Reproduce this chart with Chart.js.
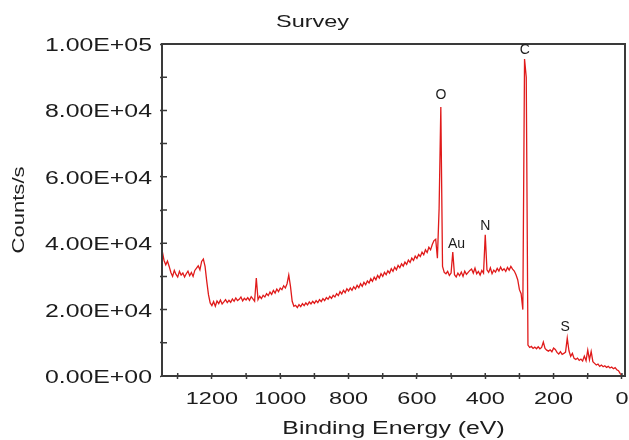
<!DOCTYPE html>
<html>
<head>
<meta charset="utf-8">
<script src="https://cdn.jsdelivr.net/npm/chart.js@4.4.1/dist/chart.umd.min.js"></script>
<style>
html,body{margin:0;padding:0;background:#ffffff;}
#c{display:block;}
</style>
</head>
<body>
<canvas id="c" width="629" height="440"></canvas>
<script>
// Binding energy (eV) sampling points
const energies = [
1345,1340,1335,1330,1325,1320,1315,1310,1305,1300,
1295,1290,1285,1280,1275,1270,1265,1260,1255,1250,
1245,1240,1235,1230,1225,1220,1215,1210,1205,1200,
1195,1190,1185,1180,1175,1170,1165,1160,1155,1150,
1145,1140,1135,1130,1125,1120,1115,1110,1105,1100,
1095,1090,1085,1080,1075,1070,1065,1060,1055,1050,
1045,1040,1035,1030,1025,1020,1015,1010,1005,1000,
995,990,985,980,975,970,965,960,955,950,
945,940,935,930,925,920,915,910,905,900,
895,890,885,880,875,870,865,860,855,850,
845,840,835,830,825,820,815,810,805,800,
795,790,785,780,775,770,765,760,755,750,
745,740,735,730,725,720,715,710,705,700,
695,690,685,680,675,670,665,660,655,650,
645,640,635,630,625,620,615,610,605,600,
595,590,585,580,575,570,565,560,555,550,
545,540,535,530,525,520,515,510,505,500,
495,490,485,480,475,470,465,460,455,450,
445,440,435,430,425,420,415,410,405,400,
395,390,385,380,375,370,365,360,355,350,
345,340,335,330,325,320,315,310,305,300,
295,290,285,280,275,270,265,260,255,250,
245,240,235,230,225,220,215,210,205,200,
195,190,185,180,175,170,165,160,155,150,
145,140,135,130,125,120,115,110,105,100,
95,90,85,80,75,70,65,60,55,50,
45,40,35,30,25,20,15,10,5,0
];

// Counts/s
const counts = [
37500,34800,33500,34600,33000,31200,30000,31800,30600,29800,
31500,30400,31000,29800,30800,31600,30200,31200,30000,31800,
32500,33200,32000,34500,35200,33000,28500,24500,22000,21200,
22400,21000,22600,21800,22900,21700,22300,23000,22100,22800,
22200,23200,22500,23500,22700,23100,23800,22600,23400,22900,
23600,22800,23900,23200,22500,29500,23000,24000,23300,24300,
23800,24800,24200,25300,24600,25800,25000,26200,25400,26500,
26000,27200,26500,27800,30400,27000,22500,21000,21300,20600,
21500,20900,21800,21200,22000,21400,22300,21700,22500,21900,
22700,22100,23000,22400,23300,22700,23600,23100,24000,23400,
24300,23800,24800,24200,25400,24700,25800,25100,26300,25600,
26500,25800,26900,26200,27300,26600,27800,27000,28200,27500,
28600,28000,29300,28500,29800,29000,30300,29500,30800,30000,
31200,30500,31700,31000,32300,31500,32800,32000,33300,32600,
33800,33100,34300,33600,34900,34200,35500,34800,36100,35400,
36600,36000,37300,36500,38000,37200,38800,38000,39600,40800,
41200,35500,50500,81000,33000,31200,30800,31500,30300,31000,
37300,30500,29800,31000,30200,31300,30000,31600,30600,31200,
31800,32200,31000,32500,30800,31500,30400,31800,31000,42500,
32000,31200,32600,30800,31900,31300,32400,31600,32800,31800,
32300,31500,32700,31900,33000,32200,31600,30500,29000,26000,
24800,20000,95500,90000,9300,8600,8900,8300,8700,8200,
8800,8200,8600,10200,8300,7800,7500,7900,7300,8400,
8000,7100,6600,7300,6500,6800,7200,11400,7600,5900,
6800,5300,5000,5400,4700,5100,4500,6000,4600,7800,
4900,7400,4300,3800,3300,3600,2900,3300,2800,3100,
2600,2900,2400,2700,2200,2500,1900,1600,700,200
];

// Tick labels
const xMajorTicks = [1200, 1000, 800, 600, 400, 200, 0];
const yMajorTicks = [0, 20000, 40000, 60000, 80000, 100000];
const yTickLabels = ['0.00E+00', '2.00E+04', '4.00E+04', '6.00E+04', '8.00E+04', '1.00E+05'];

// Peak annotations (label anchor in data coordinates)
const peakNames = ['O', 'C', 'N', 'Au', 'S'];
const peakLabelEnergy = [530, 284, 400, 484, 166];
const peakLabelCounts = [82500, 96000, 43000, 37500, 12500];

const FONT = '"Liberation Sans", Arial, Helvetica, sans-serif';
const AXIS = '#3a3a3a';
const TEXT = '#1c1c1c';
const LINE = '#e01a1a';
const STRETCH = 1.38; // the original axis font is horizontally expanded

const stretchText = {
  id: 'stretchText',
  beforeInit(chart) {
    const ctx = chart.ctx;
    if (ctx.__patched) return;
    ctx.__patched = true;
    const origFill = ctx.fillText.bind(ctx);
    const origMeasure = ctx.measureText.bind(ctx);
    ctx.fillText = function (t, x, y) {
      if (ctx.__noStretch) return origFill(t, x, y);
      ctx.save();
      ctx.translate(x, y);
      ctx.scale(STRETCH, 1);
      origFill(t, 0, 0);
      ctx.restore();
    };
    ctx.measureText = function (t) {
      const m = origMeasure(t);
      if (ctx.__noStretch) return m;
      return {
        width: m.width * STRETCH,
        actualBoundingBoxAscent: m.actualBoundingBoxAscent,
        actualBoundingBoxDescent: m.actualBoundingBoxDescent,
        actualBoundingBoxLeft: m.actualBoundingBoxLeft * STRETCH,
        actualBoundingBoxRight: m.actualBoundingBoxRight * STRETCH
      };
    };
  }
};

const frameAndLabels = {
  id: 'frameAndLabels',
  afterDraw(chart) {
    const { ctx, chartArea: a } = chart;
    const x = chart.scales.x, y = chart.scales.y;
    ctx.save();
    ctx.strokeStyle = AXIS;
    ctx.lineWidth = 2;
    ctx.strokeRect(a.left, a.top, a.right - a.left, a.bottom - a.top);
    ctx.lineWidth = 1.5;
    ctx.beginPath();
    x.ticks.forEach(t => {
      const px = x.getPixelForValue(t.value);
      ctx.moveTo(px, a.bottom);
      ctx.lineTo(px, a.bottom - 3);
    });
    y.ticks.forEach(t => {
      const py = y.getPixelForValue(t.value);
      ctx.moveTo(a.left, py);
      ctx.lineTo(a.left + 5, py);
    });
    ctx.stroke();
    ctx.__noStretch = true;
    ctx.fillStyle = TEXT;
    ctx.font = '14px ' + FONT;
    ctx.textAlign = 'center';
    ctx.textBaseline = 'bottom';
    peakNames.forEach((n, i) => {
      ctx.fillText(n, x.getPixelForValue(peakLabelEnergy[i]), y.getPixelForValue(peakLabelCounts[i]));
    });
    ctx.__noStretch = false;
    ctx.restore();
  }
};

new Chart(document.getElementById('c'), {
  type: 'scatter',
  data: {
    datasets: [{
      data: energies.map((e, i) => ({ x: e, y: counts[i] })),
      showLine: true,
      borderColor: LINE,
      borderWidth: 1.3,
      pointRadius: 0,
      tension: 0,
      fill: false
    }]
  },
  options: {
    responsive: false,
    animation: false,
    devicePixelRatio: 1,
    layout: { padding: { left: 0, right: 4, top: 0, bottom: 0 } },
    plugins: {
      legend: { display: false },
      tooltip: { enabled: false },
      title: {
        display: true,
        text: 'Survey',
        color: TEXT,
        font: { family: FONT, size: 17, weight: 'normal', lineHeight: 1.2 },
        padding: { top: 12, bottom: 11.6 }
      }
    },
    scales: {
      x: {
        type: 'linear',
        reverse: true,
        min: -9,
        max: 1346,
        afterFit: s => { s.height = 64; s.paddingLeft = 0; s.paddingRight = 0; },
        border: { display: true, color: AXIS, width: 2 },
        grid: { display: true, drawOnChartArea: false, drawTicks: true, tickLength: 3, tickColor: AXIS, tickWidth: 1.5 },
        ticks: {
          stepSize: 100,
          includeBounds: false,
          autoSkip: false,
          maxRotation: 0,
          minRotation: 0,
          padding: 10,
          color: TEXT,
          font: { family: FONT, size: 17 },
          callback: v => (xMajorTicks.includes(v) ? String(v) : '')
        },
        title: {
          display: true,
          text: 'Binding Energy (eV)',
          color: TEXT,
          font: { family: FONT, size: 18 },
          padding: { top: 0, bottom: 0 }
        }
      },
      y: {
        type: 'linear',
        min: 0,
        max: 100000,
        afterFit: s => { s.width = 162; s.paddingTop = 0; s.paddingBottom = 0; },
        border: { display: true, color: AXIS, width: 2 },
        grid: { display: true, drawOnChartArea: false, drawTicks: true, tickLength: 2, tickColor: AXIS, tickWidth: 1.5 },
        ticks: {
          stepSize: 10000,
          autoSkip: false,
          padding: 8,
          labelOffset: 2,
          color: TEXT,
          font: { family: FONT, size: 18 },
          callback: v => {
            const i = yMajorTicks.indexOf(v);
            return i >= 0 ? yTickLabels[i] : '';
          }
        },
        title: {
          display: true,
          text: 'Counts/s',
          color: TEXT,
          font: { family: FONT, size: 16 },
          padding: { top: 10, bottom: 0 }
        }
      }
    }
  },
  plugins: [stretchText, frameAndLabels]
});
</script>
</body>
</html>
